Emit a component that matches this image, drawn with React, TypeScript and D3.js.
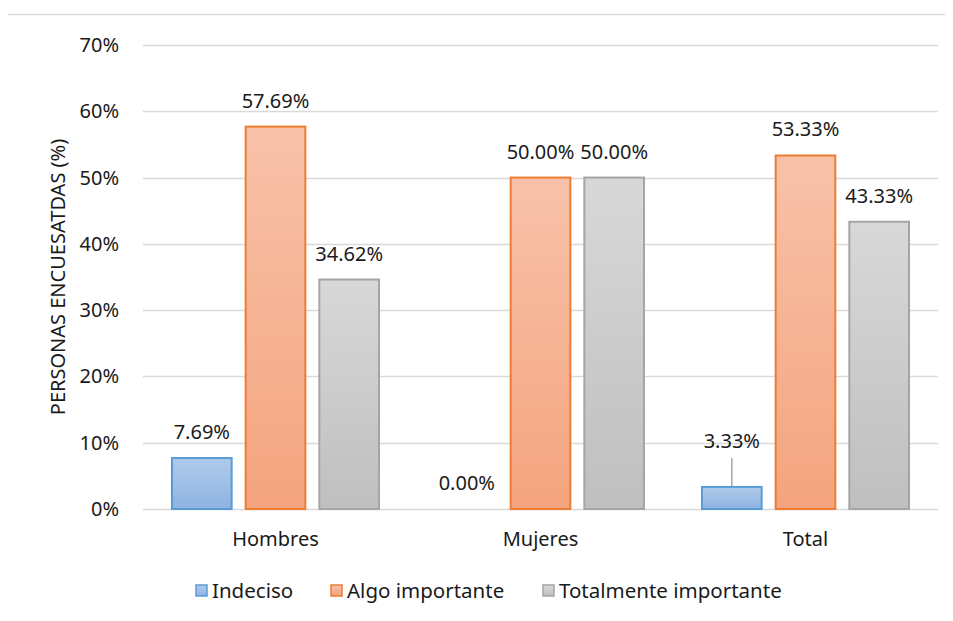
import React, { useEffect, useRef } from 'react';
import * as d3 from 'd3';

const categories = ['Hombres', 'Mujeres', 'Total'];
const seriesNames = ['Indeciso', 'Algo importante', 'Totalmente importante'];
const indeciso = [7.69, 0.0, 3.33];
const algoImportante = [57.69, 50.0, 53.33];
const totalmenteImportante = [34.62, 50.0, 43.33];
const yTicks = [0, 10, 20, 30, 40, 50, 60, 70];

const palette = [
  { top: '#b0cbeb', bottom: '#8db3e2', stroke: '#5b9bd5' },
  { top: '#f8c2aa', bottom: '#f4a47e', stroke: '#ed7d31' },
  { top: '#d8d8d8', bottom: '#bfbfbf', stroke: '#a5a5a5' },
];

const FONT = '"Noto Sans", "Open Sans", sans-serif';
const FS = 20;

export default function App() {
  const svgRef = useRef<SVGSVGElement>(null);

  useEffect(() => {
    if (!svgRef.current) return;
    const svg = d3.select(svgRef.current);
    svg.selectAll('*').remove();

    const W = 953, H = 621;
    const margin = { top: 45, right: 15, bottom: 112, left: 143 };
    const width = W - margin.left - margin.right;
    const height = H - margin.top - margin.bottom;

    svg.append('rect').attr('width', W).attr('height', H).attr('fill', '#fff');
    // chart area border
    svg.append('rect')
      .attr('x', 4.5).attr('y', 14.5).attr('width', W + 10).attr('height', H + 10)
      .attr('fill', 'none').attr('stroke', '#d9d9d9').attr('stroke-width', 1.3);

    const defs = svg.append('defs');
    palette.forEach((p, i) => {
      const lg = defs.append('linearGradient').attr('id', `grad${i}`)
        .attr('x1', 0).attr('y1', 0).attr('x2', 0).attr('y2', 1);
      lg.append('stop').attr('offset', '0%').attr('stop-color', p.top);
      lg.append('stop').attr('offset', '100%').attr('stop-color', p.bottom);
    });

    const g = svg.append('g').attr('transform', `translate(${margin.left},${margin.top})`);

    const x0 = d3.scaleBand().domain(categories).range([0, width]).paddingInner(0).paddingOuter(0);
    const x1 = d3.scaleBand().domain(seriesNames).range([29, x0.bandwidth() - 29]).paddingInner(0.19);
    const y = d3.scaleLinear().domain([0, 70]).range([height, 0]);

    // gridlines
    g.selectAll('.grid').data(yTicks).enter().append('line')
      .attr('x1', 0).attr('x2', width)
      .attr('y1', d => Math.round(y(d)) + 0.5).attr('y2', d => Math.round(y(d)) + 0.5)
      .attr('stroke', '#d9d9d9').attr('stroke-width', 1.3);

    // y tick labels
    g.selectAll('.ylab').data(yTicks).enter().append('text')
      .attr('x', -24).attr('y', d => y(d)).attr('dy', '0.35em')
      .attr('text-anchor', 'end').attr('font-family', FONT).attr('font-size', FS)
      .attr('fill', '#1a1a1a').text(d => `${d}%`);

    // x labels
    g.selectAll('.xlab').data(categories).enter().append('text')
      .attr('x', d => (x0(d) as number) + x0.bandwidth() / 2).attr('y', height + 37)
      .attr('text-anchor', 'middle').attr('font-family', FONT).attr('font-size', FS)
      .attr('fill', '#1a1a1a').text(d => d);

    // y axis title
    svg.append('text')
      .attr('transform', `translate(65,${margin.top + height / 2}) rotate(-90)`)
      .attr('text-anchor', 'middle').attr('font-family', FONT).attr('font-size', FS)
      .attr('fill', '#1a1a1a').text('PERSONAS ENCUESATDAS (%)');

    const series = [indeciso, algoImportante, totalmenteImportante];
    series.forEach((vals, si) => {
      const name = seriesNames[si];
      const grp = g.append('g');
      grp.selectAll('rect').data(vals.map((v, ci) => ({ v, c: categories[ci] })).filter(d => d.v > 0))
        .enter().append('rect')
        .attr('x', d => (x0(d.c) as number) + (x1(name) as number))
        .attr('y', d => y(d.v))
        .attr('width', x1.bandwidth())
        .attr('height', d => height - y(d.v))
        .attr('fill', `url(#grad${si})`)
        .attr('stroke', palette[si].stroke).attr('stroke-width', 2);

      vals.forEach((v, ci) => {
        const cx = (x0(categories[ci]) as number) + (x1(name) as number) + x1.bandwidth() / 2;
        let ly = y(v) - 26;
        const isLeader = si === 0 && categories[ci] === 'Total';
        if (isLeader) {
          ly = y(v) - 46;
          grp.append('line')
            .attr('x1', cx).attr('x2', cx)
            .attr('y1', ly + 17).attr('y2', y(v) - 1)
            .attr('stroke', '#a6a6a6').attr('stroke-width', 1.5);
        }
        grp.append('text')
          .attr('x', cx).attr('y', ly).attr('dy', '0.35em')
          .attr('text-anchor', 'middle').attr('font-family', FONT).attr('font-size', FS)
          .attr('fill', '#1a1a1a').text(`${v.toFixed(2)}%`);
      });
    });

    // legend
    const legendItems = [
      { x: 196, label: seriesNames[0] },
      { x: 331, label: seriesNames[1] },
      { x: 543, label: seriesNames[2] },
    ];
    const lgG = svg.append('g');
    legendItems.forEach((it, i) => {
      lgG.append('rect')
        .attr('x', it.x).attr('y', 585).attr('width', 11).attr('height', 11)
        .attr('fill', `url(#grad${i})`).attr('stroke', palette[i].stroke).attr('stroke-width', 1.5);
      lgG.append('text')
        .attr('x', it.x + 16).attr('y', 591).attr('dy', '0.35em')
        .attr('font-family', FONT).attr('font-size', 20.5).attr('fill', '#1a1a1a')
        .text(it.label);
    });
  }, []);

  return (
    <div style={{ width: 953, height: 621, margin: -8 }}>
      <svg ref={svgRef} width={953} height={621} style={{ display: 'block' }} />
    </div>
  );
}
